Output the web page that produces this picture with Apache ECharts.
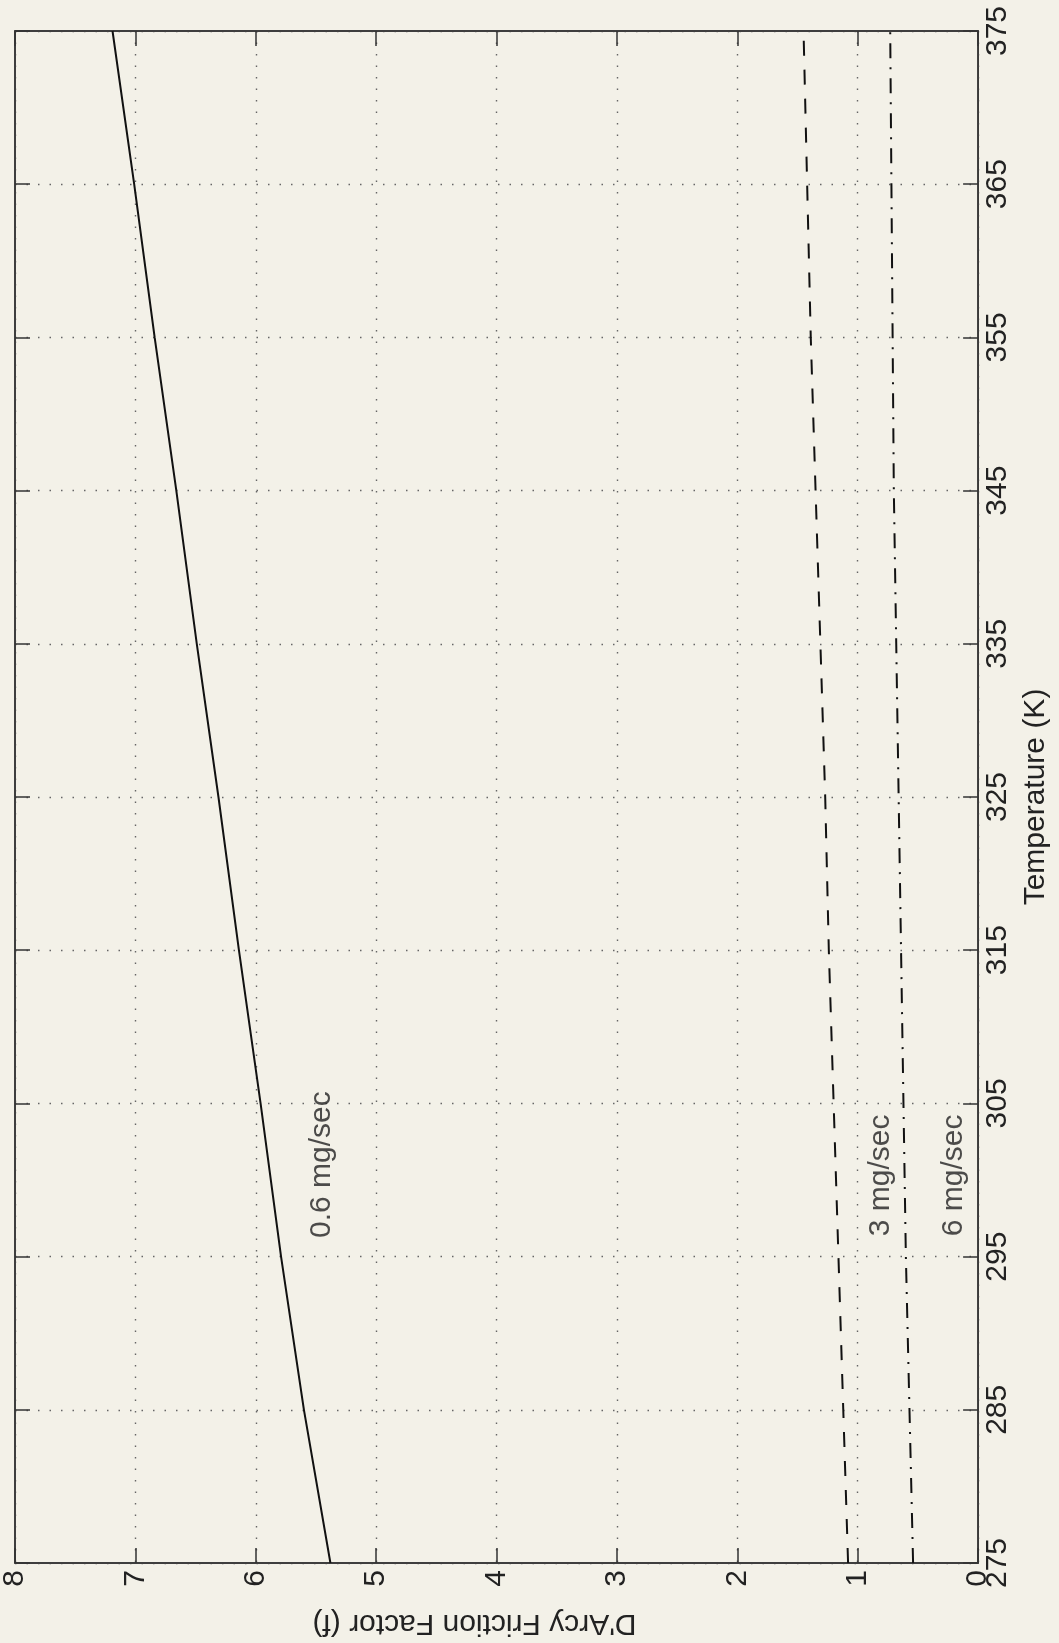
<!DOCTYPE html>
<html><head><meta charset="utf-8">
<script src="https://cdn.jsdelivr.net/npm/echarts@6/dist/echarts.min.js"></script>
<style>html,body{margin:0;padding:0;background:#f3f1e8}#c{width:1059px;height:1643px}</style>
</head><body><div id="c"></div>
<script>
// Temperature (K)
const temperatures = [275, 285, 295, 305, 315, 325, 335, 345, 355, 365, 375];
// D'Arcy friction factor per mass flow
const f_0_6 = [5.38, 5.60, 5.79, 5.96, 6.14, 6.31, 6.49, 6.66, 6.84, 7.01, 7.19];
const f_3   = [1.08, 1.12, 1.16, 1.20, 1.24, 1.27, 1.31, 1.35, 1.39, 1.42, 1.45];
const f_6   = [0.54, 0.57, 0.60, 0.62, 0.64, 0.66, 0.68, 0.70, 0.71, 0.72, 0.73];
// curve annotations [friction, temperature]
const annotNames = ['0.6 mg/sec', '3 mg/sec', '6 mg/sec'];
const annotF = [5.45, 0.81, 0.20];
const annotT = [301.0, 300.3, 300.3];

const font = '"Liberation Sans", Arial, Helvetica, sans-serif';
const fs = 30;
const ink = '#222';
const axisLine = {show: true, onZero: false, lineStyle: {color: '#333', width: 1.5}};
const tick = {show: true, inside: true, length: 15, lineStyle: {color: '#333', width: 1.5}};
const dots = {show: true, lineStyle: {color: '#666', width: 1.4, type: [1.5, 10]}};

const pair = arr => arr.map((f, i) => [f, temperatures[i]]);

const chart = echarts.init(document.getElementById('c'));
chart.setOption({
  backgroundColor: '#f3f1e8',
  animation: false,
  grid: {left: 12, right: 64, top: 31, bottom: 67, show: true, borderColor: '#333', borderWidth: 1.5},
  xAxis: [{
    type: 'value', min: 0, max: 8, interval: 1, inverse: true, position: 'bottom',
    axisLine: axisLine, axisTick: tick, splitLine: dots,
    axisLabel: {rotate: 90, margin: 7, fontSize: fs, color: ink, fontFamily: font},
    name: "D'Arcy Friction Factor (f)", nameLocation: 'middle', nameGap: 45, nameRotate: 180,
    nameTextStyle: {fontSize: fs, color: ink, fontFamily: font, padding: [0, 0, 0, 44]}
  }, {
    type: 'value', min: 0, max: 8, interval: 1, inverse: true, position: 'top',
    axisLine: axisLine, axisTick: tick, splitLine: {show: false}, axisLabel: {show: false}
  }],
  yAxis: [{
    type: 'value', min: 275, max: 375, interval: 10, position: 'right',
    axisLine: axisLine, axisTick: tick, splitLine: dots,
    axisLabel: {rotate: 90, margin: 5, fontSize: fs, color: ink, fontFamily: font},
    name: 'Temperature (K)', nameLocation: 'middle', nameGap: 40, nameRotate: 90,
    nameTextStyle: {fontSize: fs, color: ink, fontFamily: font}
  }, {
    type: 'value', min: 275, max: 375, interval: 10, position: 'left',
    axisLine: axisLine, axisTick: tick, splitLine: {show: false}, axisLabel: {show: false}
  }],
  series: [
    {type: 'line', name: '0.6 mg/sec', data: pair(f_0_6), showSymbol: false, symbol: 'none',
     lineStyle: {color: '#111', width: 2, type: 'solid'}},
    {type: 'line', name: '3 mg/sec', data: pair(f_3), showSymbol: false, symbol: 'none',
     lineStyle: {color: '#111', width: 2, type: [15, 14]}},
    {type: 'line', name: '6 mg/sec', data: pair(f_6), showSymbol: false, symbol: 'none',
     lineStyle: {color: '#111', width: 2, type: [15, 9, 2, 9]}},
    {type: 'scatter', symbolSize: 0, silent: true,
     data: annotNames.map((n, i) => ({name: n, value: [annotF[i], annotT[i]]})),
     label: {show: true, position: 'inside', rotate: 90, formatter: '{b}', fontSize: fs, color: ink, fontFamily: font}}
  ]
});
</script></body></html>
